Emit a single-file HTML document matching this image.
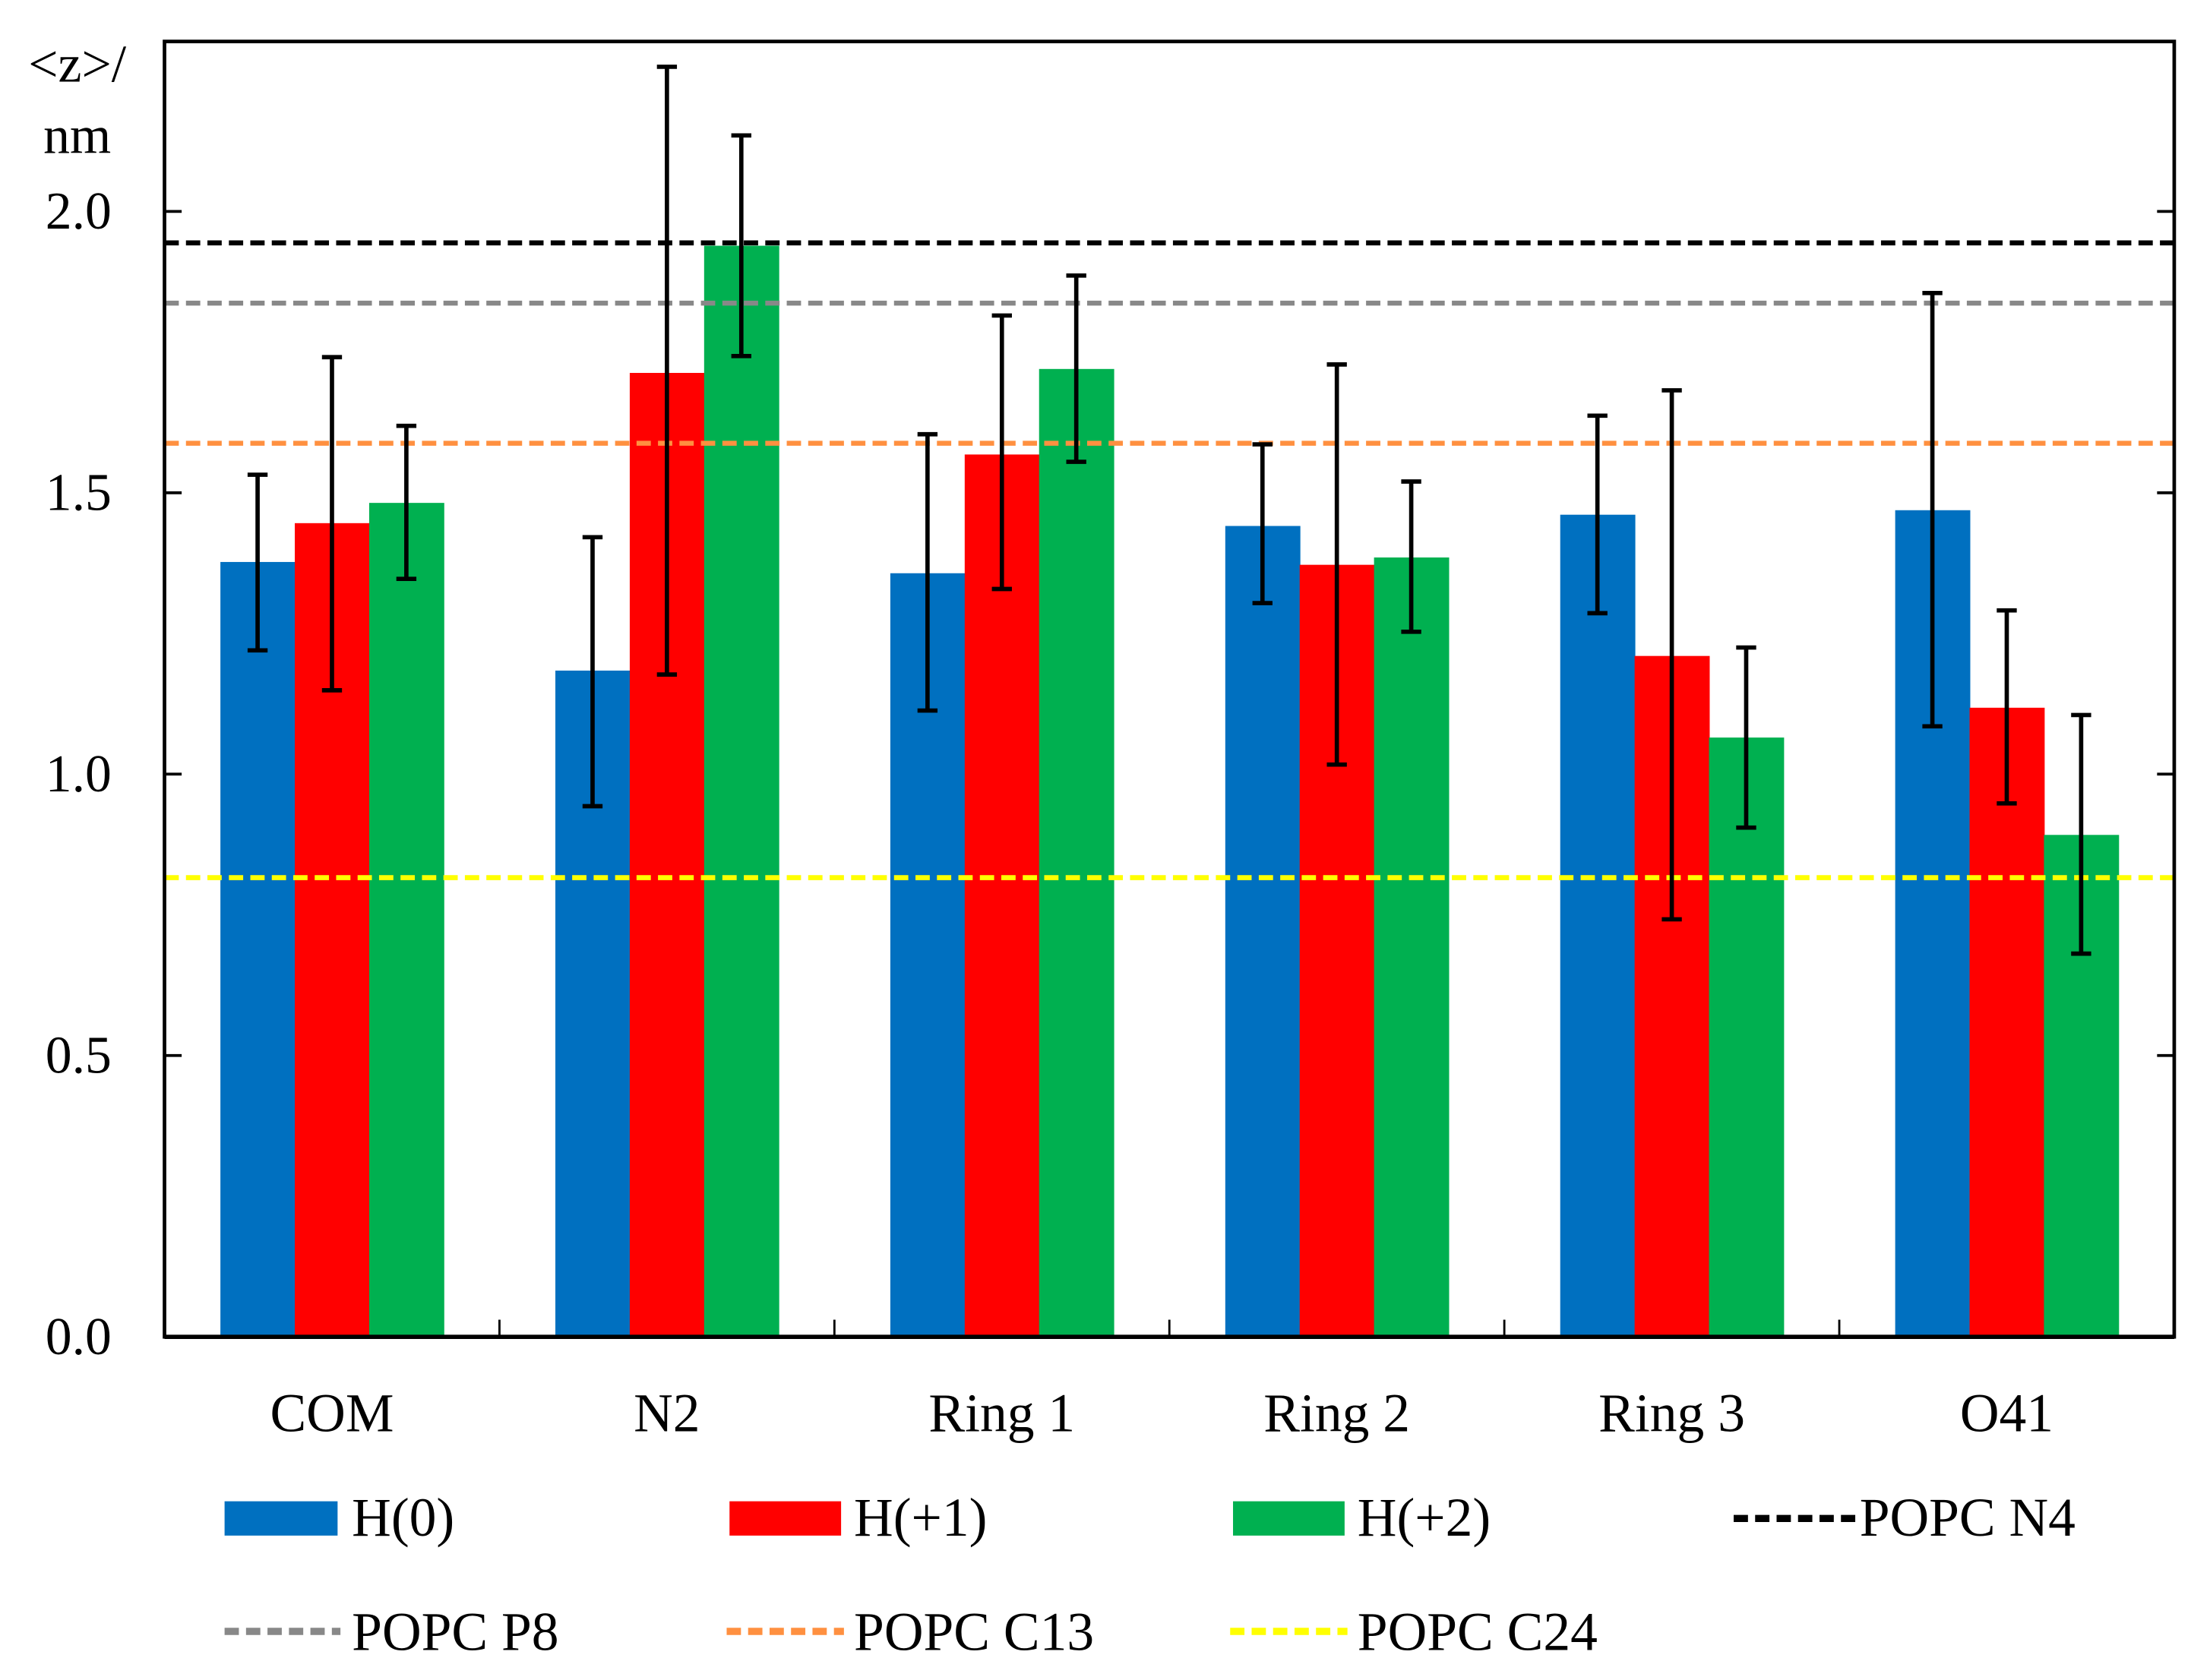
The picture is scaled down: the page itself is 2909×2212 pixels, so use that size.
<!DOCTYPE html>
<html><head><meta charset="utf-8"><style>
html,body{margin:0;padding:0;background:#fff;}
svg{display:block;}
text{font-family:"Liberation Serif",serif;fill:#000;}
</style></head><body>
<svg id="chart" width="2909" height="2212" viewBox="0 0 1545 1175" preserveAspectRatio="none" xmlns="http://www.w3.org/2000/svg">
<rect x="0" y="0" width="1545" height="1175" fill="#fff"/>
<g id="plot"></g>
<text x="54" y="57" font-size="37" text-anchor="middle">&lt;z&gt;/</text>
<text x="54" y="107" font-size="37" text-anchor="middle">nm</text>
<g>
<rect x="157" y="1050" width="79" height="24" fill="#0070c0"/>
<text x="246" y="1074" font-size="38">H(0)</text>
<rect x="510" y="1050" width="78" height="24" fill="#ff0000"/>
<text x="597" y="1074" font-size="38">H(+1)</text>
<rect x="862" y="1050" width="78" height="24" fill="#00b050"/>
<text x="949" y="1074" font-size="38">H(+2)</text>
<line x1="1212" y1="1062" x2="1297" y2="1062" stroke="#000" stroke-width="5" stroke-dasharray="10,5"/>
<text x="1300" y="1074" font-size="38">POPC N4</text>
<line x1="157" y1="1141" x2="238" y2="1141" stroke="#888" stroke-width="5" stroke-dasharray="10,5"/>
<text x="246" y="1154" font-size="38">POPC P8</text>
<line x1="508" y1="1141" x2="590" y2="1141" stroke="#ff9040" stroke-width="5" stroke-dasharray="10,5"/>
<text x="597" y="1154" font-size="38">POPC C13</text>
<line x1="860" y1="1141" x2="942" y2="1141" stroke="#ffff00" stroke-width="5" stroke-dasharray="10,5"/>
<text x="949" y="1154" font-size="38">POPC C24</text>
</g>
</svg>
<script>
const categories = ["COM", "N2", "Ring 1", "Ring 2", "Ring 3", "O41"];
const seriesNames = ["H(0)", "H(+1)", "H(+2)"];
const h0 = [1.377, 1.184, 1.357, 1.441, 1.461, 1.469];
const h1 = [1.446, 1.713, 1.568, 1.372, 1.210, 1.118];
const h2 = [1.482, 1.939, 1.720, 1.385, 1.065, 0.892];
const h0Lo = [1.220, 0.943, 1.113, 1.304, 1.286, 1.085];
const h0Hi = [1.532, 1.421, 1.604, 1.586, 1.637, 1.855];
const h1Lo = [1.149, 1.177, 1.329, 1.017, 0.742, 0.948];
const h1Hi = [1.741, 2.257, 1.815, 1.728, 1.682, 1.291];
const h2Lo = [1.347, 1.743, 1.555, 1.253, 0.905, 0.681];
const h2Hi = [1.619, 2.135, 1.886, 1.520, 1.225, 1.105];
const refNames = ["POPC N4", "POPC P8", "POPC C13", "POPC C24"];
const refValues = [1.944, 1.837, 1.588, 0.816];
const yTicks = [0.0, 0.5, 1.0, 1.5, 2.0];
const yTickLabels = ["0.0", "0.5", "1.0", "1.5", "2.0"];

const NS = "http://www.w3.org/2000/svg";
const L = 115, R = 1520, T = 29, B = 935, YMAX = 2.302;
function yPos(v){ return B - (v / YMAX) * (B - T); }
const gw = (R - L) / categories.length;
function xCenter(i){ return L + gw * (i + 0.5); }
const bw = 52;
const g = document.getElementById("plot");
function mk(tag, attrs){ const e = document.createElementNS(NS, tag); for (const k in attrs) e.setAttribute(k, attrs[k]); g.appendChild(e); return e; }

const colors = ["#0070c0", "#ff0000", "#00b050"];
const vals = [h0, h1, h2], los = [h0Lo, h1Lo, h2Lo], his = [h0Hi, h1Hi, h2Hi];
const keys = ["h0", "h1", "h2"];
for (let s = 0; s < 3; s++) {
  for (let i = 0; i < categories.length; i++) {
    const x = xCenter(i) + (s - 1) * bw - bw / 2;
    const r = mk("rect", {x: x, y: yPos(vals[s][i]), width: bw + 0.5, height: B - yPos(vals[s][i]), fill: colors[s]});
    
    
  }
}
const refColors = ["#000", "#888", "#ff9040", "#ffff00"];
for (let k = 0; k < refValues.length; k++) {
  const ln = mk("line", {x1: L, x2: R, y1: yPos(refValues[k]), y2: yPos(refValues[k]), stroke: refColors[k], "stroke-width": 3.5, "stroke-dasharray": "10,5"});
  
  
}
for (let s = 0; s < 3; s++) {
  for (let i = 0; i < categories.length; i++) {
    const cx = xCenter(i) + (s - 1) * bw;
    const y1 = yPos(his[s][i]), y2 = yPos(los[s][i]);
    const eb = mk("path", {d: `M${cx},${y1}V${y2}M${cx-7},${y1}H${cx+7}M${cx-7},${y2}H${cx+7}`, stroke: "#000", "stroke-width": 3, fill: "none"});
    
    
  }
}
const frame = mk("rect", {x: L, y: T, width: R - L, height: B - T, fill: "none", stroke: "#000", "stroke-width": 2.5});


const xaxis = mk("line", {x1: L, x2: R, y1: B, y2: B, stroke: "#000", "stroke-width": 3});


for (let t = 0; t < yTicks.length; t++) {
  const y = yPos(yTicks[t]);
  const tk = mk("path", {d: `M${L},${y}H${L+12}M${R},${y}H${R-12}`, stroke: "#000", "stroke-width": 2});
  
  
  const lb = mk("text", {x: 78, y: y + 12, "font-size": 37, "text-anchor": "end"});
  lb.textContent = yTickLabels[t];
  
  
}
for (let i = 1; i < categories.length; i++) {
  const x = L + gw * i;
  const tk = mk("line", {x1: x, x2: x, y1: B, y2: B - 12, stroke: "#000", "stroke-width": 1.5});
  
  
}
for (let i = 0; i < categories.length; i++) {
  const lb = mk("text", {x: xCenter(i), y: 1001, "font-size": 38, "text-anchor": "middle"});
  lb.textContent = categories[i];
  
  
}
</script>
</body></html>
